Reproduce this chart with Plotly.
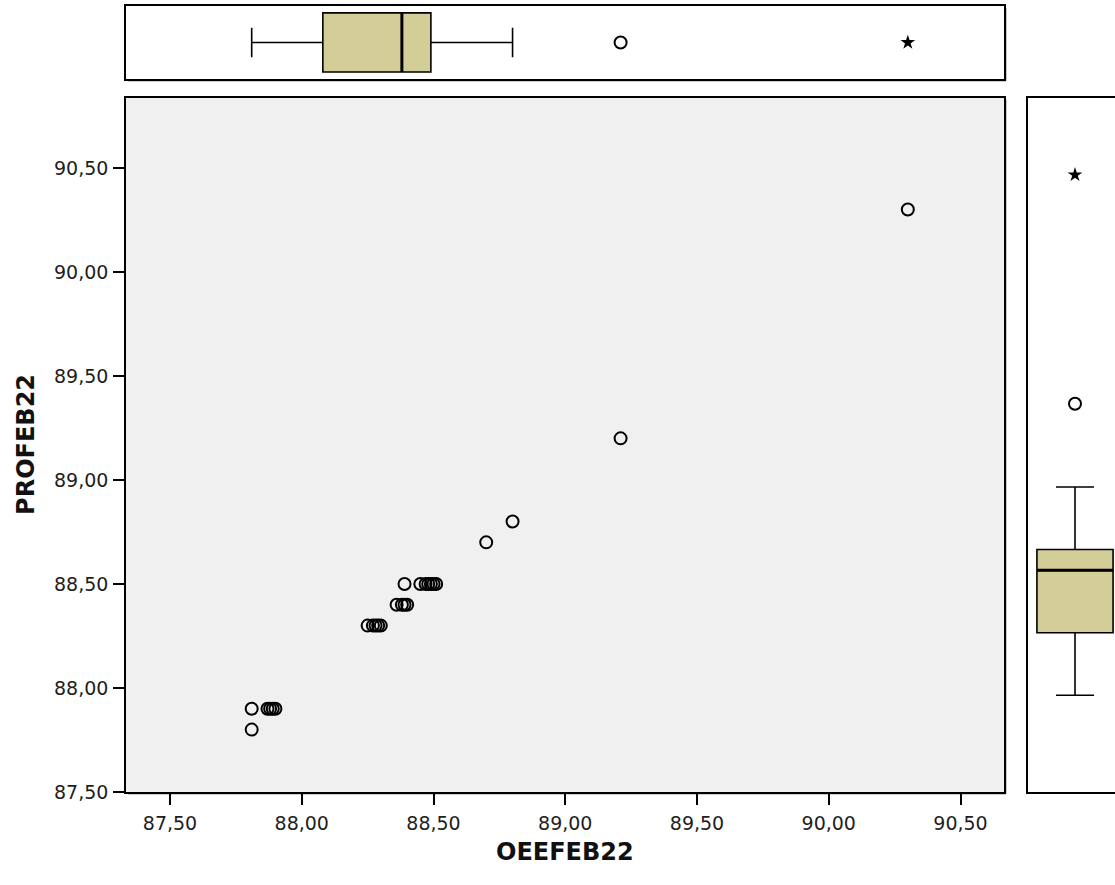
import plotly.graph_objects as go

# OEEFEB22 / PROFEB22 paired observations
oee = [87.81, 87.81, 87.87, 87.88, 87.89, 87.90,
       88.25, 88.27, 88.28, 88.29, 88.30,
       88.36, 88.38, 88.39, 88.40,
       88.39, 88.45, 88.47, 88.48, 88.49, 88.50, 88.51,
       88.70, 88.80, 89.21, 90.30]
pro = [87.80, 87.90, 87.90, 87.90, 87.90, 87.90,
       88.30, 88.30, 88.30, 88.30, 88.30,
       88.40, 88.40, 88.40, 88.40,
       88.50, 88.50, 88.50, 88.50, 88.50, 88.50, 88.50,
       88.70, 88.80, 89.20, 90.30]

# Box-plot summaries: [lower whisker, Q1, median, Q3, upper whisker]
oee_box = [87.81, 88.08, 88.38, 88.49, 88.80]
oee_outlier = [89.21]
oee_extreme = [90.30]

pro_box = [87.80, 88.10, 88.40, 88.50, 88.80]
pro_outlier = [89.20]
pro_extreme = [90.30]

tick_vals = [87.5, 88.0, 88.5, 89.0, 89.5, 90.0, 90.5]
tick_text = ["87,50", "88,00", "88,50", "89,00", "89,50", "90,00", "90,50"]

BOX_FILL = "#D3CE97"
PANEL_BG = "#F0F0F0"
FONT = "DejaVu Sans"
TICK_FONT = dict(family=FONT, size=19, color="#1e1e1e")
TITLE_FONT = dict(family=FONT, size=24, color="#111111")

W, H = 1115, 885


def px(x):
    return x / W


def py(y):
    return 1 - y / H


X_DOM = [px(126), px(1004)]
Y_DOM = [py(802), py(99)]
TOP_DOM = [py(80), py(6)]
RIGHT_DOM = [px(1028), 1.0]
X_RANGE = [87.333, 90.665]

open_circle = dict(symbol="circle-open", size=12, color="black",
                   line=dict(width=2, color="black"))
star = dict(symbol="star", size=11, color="black")

fig = go.Figure()

# main scatter
fig.add_trace(go.Scatter(
    x=oee, y=pro, mode="markers", marker=open_circle,
    xaxis="x", yaxis="y", showlegend=False))

# top marginal box (OEEFEB22)
fig.add_trace(go.Box(
    y=[0], orientation="h",
    lowerfence=[oee_box[0]], q1=[oee_box[1]], median=[oee_box[2]],
    q3=[oee_box[3]], upperfence=[oee_box[4]],
    width=1.62, whiskerwidth=0.5, fillcolor=BOX_FILL,
    line=dict(color="black", width=1.6), boxpoints=False,
    xaxis="x2", yaxis="y2", showlegend=False))
fig.add_trace(go.Scatter(
    x=[oee_box[2], oee_box[2]], y=[-0.81, 0.81], mode="lines",
    line=dict(color="black", width=3),
    xaxis="x2", yaxis="y2", showlegend=False, hoverinfo="skip"))
fig.add_trace(go.Scatter(
    x=oee_outlier, y=[0], mode="markers", marker=open_circle,
    xaxis="x2", yaxis="y2", showlegend=False))
fig.add_trace(go.Scatter(
    x=oee_extreme, y=[0], mode="markers", marker=star,
    xaxis="x2", yaxis="y2", showlegend=False))

# right marginal box (PROFEB22)
fig.add_trace(go.Box(
    x=[0],
    lowerfence=[pro_box[0]], q1=[pro_box[1]], median=[pro_box[2]],
    q3=[pro_box[3]], upperfence=[pro_box[4]],
    width=1.62, whiskerwidth=0.5, fillcolor=BOX_FILL,
    line=dict(color="black", width=1.6), boxpoints=False,
    xaxis="x3", yaxis="y3", showlegend=False))
fig.add_trace(go.Scatter(
    x=[-0.81, 0.81], y=[pro_box[2], pro_box[2]], mode="lines",
    line=dict(color="black", width=3),
    xaxis="x3", yaxis="y3", showlegend=False, hoverinfo="skip"))
fig.add_trace(go.Scatter(
    x=[0], y=pro_outlier, mode="markers", marker=open_circle,
    xaxis="x3", yaxis="y3", showlegend=False))
fig.add_trace(go.Scatter(
    x=[0], y=pro_extreme, mode="markers", marker=star,
    xaxis="x3", yaxis="y3", showlegend=False))

axis_common = dict(showgrid=False, zeroline=False, linecolor="black",
                   linewidth=1.5)

# grey panel behind the scatter, soft shadows along frame edges
shapes = [dict(type="rect", xref="x domain", yref="y domain",
               x0=0, x1=1, y0=0, y1=1, fillcolor=PANEL_BG,
               line=dict(width=0), layer="below")]
SHADOW = dict(color="#9a9a9a", width=1.5)
for (l, t, r, b) in [(126, 6, 1004, 80), (126, 99, 1004, 802)]:
    shapes.append(dict(type="line", xref="paper", yref="paper",
                       x0=px(r + 1.8), x1=px(r + 1.8), y0=py(t + 2), y1=py(b + 1.8),
                       line=SHADOW, layer="below"))
    shapes.append(dict(type="line", xref="paper", yref="paper",
                       x0=px(l + 2), x1=px(r + 1.8), y0=py(b + 1.8), y1=py(b + 1.8),
                       line=SHADOW, layer="below"))

annotations = [
    dict(text="<b>OEEFEB22</b>", xref="paper", yref="paper",
         x=(X_DOM[0] + X_DOM[1]) / 2, y=py(863), xanchor="center",
         yanchor="middle", showarrow=False, font=TITLE_FONT),
    dict(text="<b>PROFEB22</b>", xref="paper", yref="paper",
         x=px(26), y=(Y_DOM[0] + Y_DOM[1]) / 2, xanchor="center",
         yanchor="middle", textangle=-90, showarrow=False, font=TITLE_FONT),
]

fig.update_layout(
    width=W, height=H,
    margin=dict(l=0, r=0, t=0, b=0),
    paper_bgcolor="white", plot_bgcolor="white",
    showlegend=False, shapes=shapes, annotations=annotations,
    xaxis=dict(domain=X_DOM, range=X_RANGE, tickvals=tick_vals,
               ticktext=tick_text, ticks="outside", ticklen=11,
               tickwidth=1.5, tickcolor="black", showline=True,
               mirror=True, tickfont=TICK_FONT, ticklabelstandoff=2,
               anchor="y", **axis_common),
    yaxis=dict(domain=Y_DOM, range=[87.5, 90.837], tickvals=tick_vals,
               ticktext=tick_text, ticks="outside", ticklen=11,
               tickwidth=1.5, tickcolor="black", showline=True,
               mirror=True, tickfont=TICK_FONT, ticklabelstandoff=1,
               anchor="x", **axis_common),
    xaxis2=dict(domain=X_DOM, range=X_RANGE, showticklabels=False,
                ticks="", showline=True, mirror=True, anchor="y2",
                **axis_common),
    yaxis2=dict(domain=TOP_DOM, range=[-1, 1],
                showticklabels=False, ticks="", showline=True,
                mirror=True, anchor="x2", **axis_common),
    xaxis3=dict(domain=RIGHT_DOM, range=[-1.0, 0.851],
                showticklabels=False, ticks="", showline=True,
                mirror=True, anchor="y3", **axis_common),
    yaxis3=dict(domain=Y_DOM, range=[87.335, 90.67],
                showticklabels=False, ticks="", showline=True,
                mirror=False, anchor="x3", **axis_common),
)

fig.write_html("out.html")
